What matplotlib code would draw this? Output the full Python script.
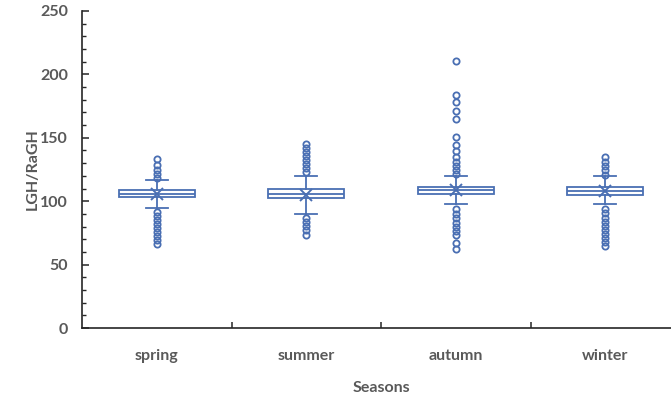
import matplotlib
matplotlib.use("Agg")
import matplotlib.pyplot as plt
from matplotlib.ticker import MultipleLocator, FixedLocator

plt.rcParams['font.family'] = ['Lato', 'DejaVu Sans']

seasons = ["spring", "summer", "autumn", "winter"]
q1 = [103.0, 102.5, 106.0, 105.0]
median = [106.0, 105.5, 108.5, 108.0]
q3 = [109.0, 109.5, 111.0, 111.0]
mean = [106.0, 105.0, 108.5, 108.0]
whisker_low = [94.5, 90.0, 97.5, 97.5]
whisker_high = [117.0, 120.0, 120.0, 120.0]
outliers = [
    [133.3, 128.5, 125.0, 121.5, 118.0,
     91.7, 88.3, 85.2, 82.0, 78.9, 75.7, 72.6, 69.4, 66.0],
    [145.5, 142.2, 139.0, 135.8, 132.5, 129.0, 125.9, 122.8,
     86.5, 83.3, 80.2, 77.0, 73.5],
    [210.6, 183.9, 177.9, 171.3, 164.7, 150.4, 144.0, 139.5, 135.0,
     131.0, 127.8, 124.6, 121.5,
     93.5, 89.9, 86.5, 83.1, 79.9, 76.7, 73.3, 67.0, 62.5],
    [134.6, 131.2, 128.0, 124.6, 121.0,
     93.6, 90.5, 87.0, 83.8, 80.4, 77.3, 74.1, 71.0, 67.6, 65.0],
]

blue = "#4a6fb3"
grey = "#595959"
fs = 11.5

fig = plt.figure(figsize=(6.71, 3.98), dpi=100)
ax = fig.add_axes([82 / 671, 70 / 398, 598 / 671, 317 / 398])

stats = []
for i, name in enumerate(seasons):
    stats.append(dict(label=name, q1=q1[i], med=median[i], q3=q3[i],
                      mean=mean[i], whislo=whisker_low[i],
                      whishi=whisker_high[i], fliers=outliers[i]))

positions = list(range(len(seasons)))
ax.bxp(stats, positions=positions, widths=0.51, showmeans=True,
       patch_artist=True,
       boxprops=dict(facecolor="white", edgecolor=blue, linewidth=1.3),
       medianprops=dict(color=blue, linewidth=1.3),
       whiskerprops=dict(color=blue, linewidth=1.3),
       capprops=dict(color=blue, linewidth=1.3),
       capwidths=0.15,
       meanprops=dict(marker="x", markeredgecolor=blue, markersize=8,
                      markeredgewidth=1.4),
       flierprops=dict(marker="o", markerfacecolor="none",
                       markeredgecolor=blue, markersize=4.5,
                       markeredgewidth=1.3))

ax.set_xlim(-0.5, len(seasons) - 0.5)
ax.set_ylim(0, 250)

for side in ("top", "right"):
    ax.spines[side].set_visible(False)
for side in ("left", "bottom"):
    ax.spines[side].set_color("#262626")
    ax.spines[side].set_linewidth(1.2)

ax.yaxis.set_major_locator(MultipleLocator(50))
ax.yaxis.set_minor_locator(MultipleLocator(10))
ax.tick_params(axis="y", which="major", direction="in", length=5,
               width=1.1, color="#262626", labelsize=fs,
               labelcolor=grey, pad=10)
ax.tick_params(axis="y", which="minor", direction="in", length=3,
               width=1.0, color="#262626")
for lab in ax.get_yticklabels():
    lab.set_fontweight("bold")

ax.set_xticks(positions)
ax.set_xticklabels(seasons, fontsize=fs, color=grey, fontweight="bold")
ax.tick_params(axis="x", which="major", length=0, pad=15)
ax.xaxis.set_minor_locator(FixedLocator([p + 0.5 for p in positions[:-1]]))
ax.tick_params(axis="x", which="minor", direction="in", length=4,
               width=1.1, color="#262626")

ax.set_ylabel("LGH/RaGH", fontsize=fs, color=grey, fontweight="bold",
              labelpad=0)
ax.set_xlabel("Seasons", fontsize=fs, color=grey, fontweight="bold",
              labelpad=13)

fig.savefig("out.png", dpi=100)
